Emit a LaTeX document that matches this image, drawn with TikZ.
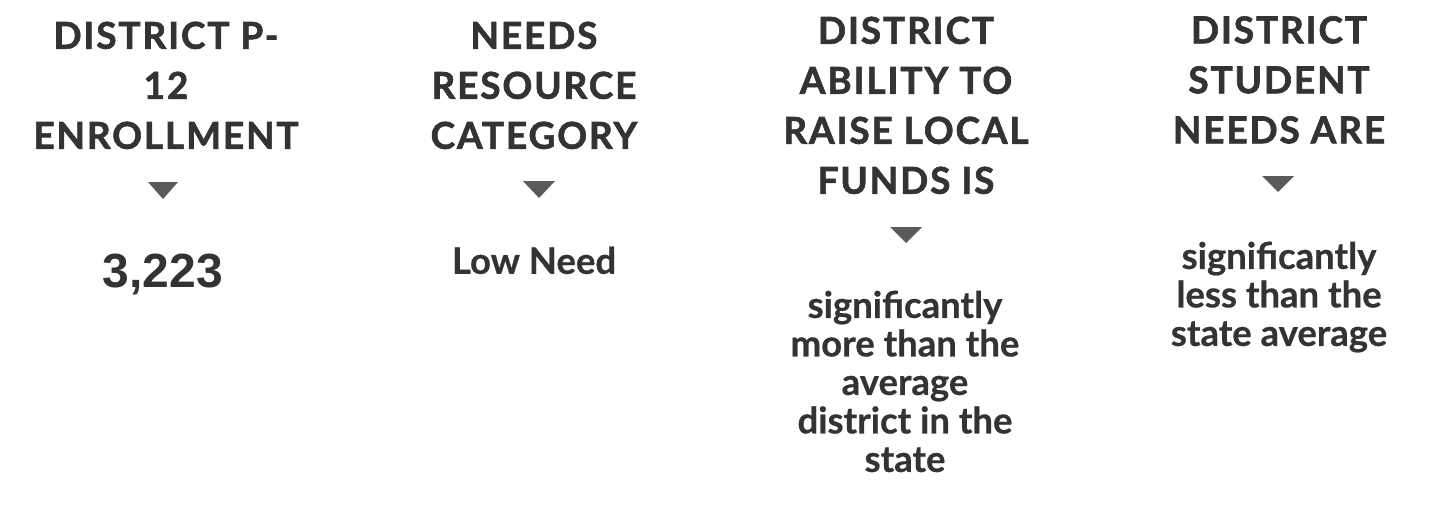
\documentclass[tikz,border=0pt]{standalone}
\usepackage{fontspec}
\setmainfont{Lato}
\newfontfamily\headfont[LetterSpace=5,BoldFeatures={FakeBold=1.6}]{Lato}
\newfontfamily\valfont[BoldFeatures={FakeBold=0.6}]{Lato}
\newfontfamily\numfont{Liberation Sans}
\definecolor{txt}{HTML}{333333}
\definecolor{tri}{HTML}{5A5A5A}
\tikzset{
  head/.style={anchor=north, inner sep=0pt, align=center, text=txt,
    font={\headfont\bfseries\fontsize{37}{50}\selectfont}},
  val/.style={anchor=north, inner sep=0pt, align=center, text=txt,
    font={\valfont\bfseries\fontsize{36.5}{38.5}\selectfont}},
  num/.style={anchor=north, inner sep=0pt, text=txt,
    font={\numfont\bfseries\fontsize{48}{56}\selectfont}},
  pointer/.style={fill=tri}
}
\begin{document}
\begin{tikzpicture}[x=1pt,y=-1pt]
\useasboundingbox (0,0) rectangle (1444,504);
% column 1
\node[head] (h1) at (166,21.5) {DISTRICT P-\\12\\ENROLLMENT};
\fill[pointer] (148,182) -- (178,182) -- (163,199) -- cycle;
\node[num] (v1) at (163,253.6) {3,223};
% column 2
\node[head] (h2) at (534,21.5) {NEEDS\\RESOURCE\\CATEGORY};
\fill[pointer] (523,181) -- (555,181) -- (539,198) -- cycle;
\node[val] (v2) at (534,246.5) {Low Need};
% column 3
\node[head] (h3) at (906,16.5) {DISTRICT\\ABILITY TO\\RAISE LOCAL\\FUNDS IS};
\fill[pointer] (890,227) -- (922,227) -- (906,243) -- cycle;
\node[val] (v3) at (905,290.5) {significantly\\more than the\\average\\district in the\\state};
% column 4
\node[head] (h4) at (1279,16) {DISTRICT\\STUDENT\\NEEDS ARE};
\fill[pointer] (1262,176) -- (1294,176) -- (1278,192) -- cycle;
\node[val] (v4) at (1279,241.5) {significantly\\less than the\\state average};
\end{tikzpicture}
\end{document}
